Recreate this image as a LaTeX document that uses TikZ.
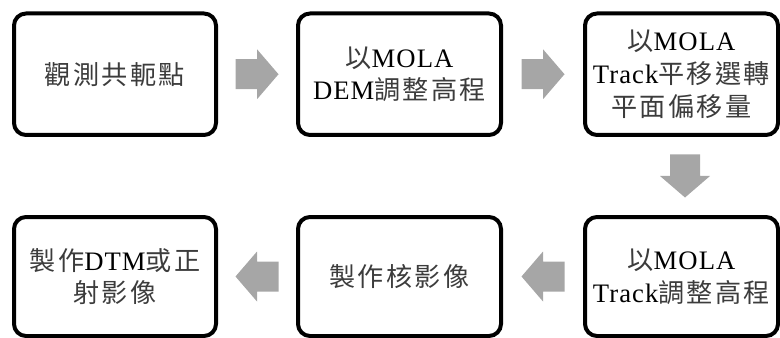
\documentclass[tikz,border=0pt]{standalone}
\usepackage{fontspec}
\setmainfont{Liberation Serif}[LetterSpace=4]
\newfontfamily\cjk{Noto Sans CJK TC}[LetterSpace=9,Color=3C3C3C,Scale=0.98]
\usetikzlibrary{calc}
\definecolor{arrowgray}{RGB}{166,166,166}
\newcommand{\cj}[1]{{\cjk #1}}
\tikzset{
  stepbox/.style={draw=black, line width=3pt, rounded corners=9pt, fill=white,
    align=center, inner sep=0pt, font=\fontsize{20}{24.5}\selectfont},
  blockarrow/.style={fill=arrowgray, draw=none}
}
\newcommand{\blockarrow}[2]{% #1 centre coordinate, #2 rotation
  \fill[blockarrow, shift={(#1)}, rotate=#2]
    (-21.5,-15) -- (0,-15) -- (0,-25) -- (21.5,0) -- (0,25) -- (0,15) -- (-21.5,15) -- cycle;}
\begin{document}
\begin{tikzpicture}[x=0.75pt,y=-0.75pt]
\useasboundingbox (0,0) rectangle (780,338);
% top row
\node[stepbox, minimum width=202*0.75pt, minimum height=121.5*0.75pt] (b1) at (115,74.25)
  {\cj{觀測共軛點}};
\node[stepbox, minimum width=203*0.75pt, minimum height=121.5*0.75pt] (b2) at (399.5,74.25)
  {\cj{以}MOLA\\DEM\cj{調整高程}};
\node[stepbox, minimum width=193*0.75pt, minimum height=121.5*0.75pt] (b3) at (681.5,74.25)
  {\cj{以}MOLA\\Track\cj{平移選轉}\\\cj{平面偏移量}};
% bottom row
\node[stepbox, minimum width=193*0.75pt, minimum height=119*0.75pt] (b4) at (681.5,276.5)
  {\cj{以}MOLA\\Track\cj{調整高程}};
\node[stepbox, minimum width=203*0.75pt, minimum height=119*0.75pt] (b5) at (399.5,276.5)
  {\cj{製作核影像}};
\node[stepbox, minimum width=202*0.75pt, minimum height=119*0.75pt] (b6) at (115,276.5)
  {\cj{製作}DTM\cj{或正}\\\cj{射影像}};
% arrows
\coordinate (m12) at ($(b1.east)!0.5!(b2.west)$);
\coordinate (m23) at ($(b2.east)!0.5!(b3.west)$);
\coordinate (m34) at ($(b3.south)!0.5!(b4.north)+(3.5,0)$);
\coordinate (m45) at ($(b4.west)!0.5!(b5.east)$);
\coordinate (m56) at ($(b5.west)!0.5!(b6.east)$);
\blockarrow{m12}{0}
\blockarrow{m23}{0}
\blockarrow{m34}{-90}
\blockarrow{m45}{180}
\blockarrow{m56}{180}
\end{tikzpicture}
\end{document}
